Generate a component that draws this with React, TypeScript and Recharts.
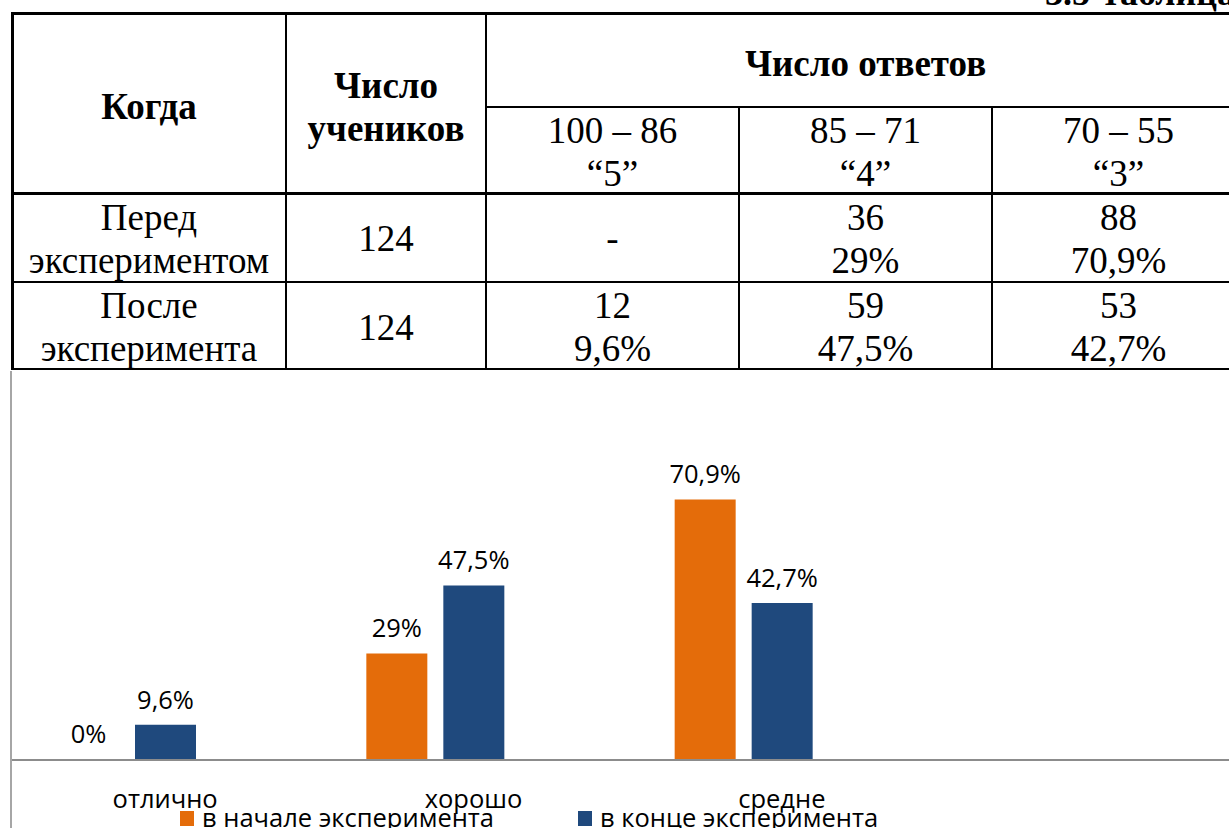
import React from 'react';
import { BarChart, Bar, XAxis, YAxis, LabelList, Legend } from 'recharts';

// ---- chart data ----
const categories = ['отлично', 'хорошо', 'средне'];
const beforeValues = [0, 29, 70.9];
const afterValues = [9.6, 47.5, 42.7];
const emptyValues: (number | null)[] = [null, null, null];
const seriesNames = ['в начале эксперимента', 'в конце эксперимента'];
const seriesColors = ['#E46C0A', '#1F497D'];

// ---- table data ----
const tableTitle = '3.5-таблица';
const headWhen = 'Когда';
const headCount = ['Число', 'учеников'];
const headAnswers = 'Число ответов';
const gradeRanges = ['100 – 86', '85 – 71', '70 – 55'];
const gradeMarks = ['“5”', '“4”', '“3”'];
const rowLabels = [
  ['Перед', 'экспериментом'],
  ['После', 'эксперимента'],
];
const studentCounts = [124, 124];
const beforeCounts: (number | null)[] = [null, 36, 88];
const afterCounts: (number | null)[] = [12, 59, 53];

const fmtPct = (v: any) => (v == null ? '' : `${String(v).replace('.', ',')}%`);

const data = categories.map((c, i) => ({
  name: c,
  before: beforeValues[i],
  after: afterValues[i],
  extra: emptyValues[i],
}));

const serif = '"Liberation Serif", "Times New Roman", serif';
const sans = '"Open Sans", "Noto Sans", sans-serif';
const chartFont = 25.5;

const hLines = [
  { y: 12, x1: 11, x2: 1245, t: 3 },
  { y: 106, x1: 486, x2: 1245, t: 2 },
  { y: 192, x1: 11, x2: 1245, t: 3 },
  { y: 281, x1: 11, x2: 1245, t: 2 },
  { y: 368, x1: 11, x2: 1245, t: 2 },
];
const vLines = [
  { x: 11, y1: 12, y2: 370, t: 3 },
  { x: 285, y1: 12, y2: 370, t: 2 },
  { x: 485, y1: 12, y2: 370, t: 2 },
  { x: 738, y1: 106, y2: 370, t: 2 },
  { x: 991, y1: 106, y2: 370, t: 2 },
];

const colX = [12, 286, 486, 739, 992, 1245];
const rowY = [193, 282, 370];

const Cell = ({ x, y, w, h, lines, bold }: any) => (
  <div
    style={{
      position: 'absolute',
      left: x,
      top: y,
      width: w,
      height: h,
      display: 'flex',
      flexDirection: 'column',
      alignItems: 'center',
      justifyContent: 'center',
      fontFamily: serif,
      fontSize: 37,
      lineHeight: '43px',
      fontWeight: bold ? 700 : 400,
      color: '#000',
      whiteSpace: 'nowrap',
    }}
  >
    {lines.map((l: string, i: number) => (
      <div key={i}>{l}</div>
    ))}
  </div>
);

const renderLegend = () => (
  <div
    style={{
      display: 'flex',
      alignItems: 'flex-start',
      height: 18,
      paddingLeft: 169,
      fontFamily: sans,
      fontSize: chartFont,
      lineHeight: '18px',
      whiteSpace: 'nowrap',
      color: '#000',
    }}
  >
    {seriesNames.map((n, i) => (
      <div key={n} style={{ display: 'flex', alignItems: 'flex-start', marginRight: 84 }}>
        <span
          style={{
            width: 14,
            height: 15,
            background: seriesColors[i],
            display: 'inline-block',
            marginRight: 8,
          }}
        />
        <span style={{ position: 'relative', top: -3 }}>{n}</span>
      </div>
    ))}
  </div>
);

const Tick = (props: any) => {
  const { x, y, payload } = props;
  return (
    <text x={x} y={y + 48} textAnchor="middle" fontFamily={sans} fontSize={chartFont} fill="#000">
      {payload.value}
    </text>
  );
};

export default function App() {
  const rows = [beforeCounts, afterCounts];
  const pcts = [beforeValues, afterValues];
  return (
    <div
      style={{
        position: 'absolute',
        left: 0,
        top: 0,
        width: 1229,
        height: 828,
        overflow: 'hidden',
        background: '#fff',
      }}
    >
      {/* title, cut at the top */}
      <div
        style={{
          position: 'absolute',
          left: 1045,
          top: -25,
          fontFamily: serif,
          fontWeight: 700,
          fontSize: 36,
          lineHeight: '36px',
          whiteSpace: 'nowrap',
        }}
      >
        {tableTitle}
      </div>

      {/* table grid */}
      {hLines.map((l, i) => (
        <div
          key={'h' + i}
          style={{ position: 'absolute', left: l.x1, top: l.y, width: l.x2 - l.x1, height: l.t, background: '#000' }}
        />
      ))}
      {vLines.map((l, i) => (
        <div
          key={'v' + i}
          style={{ position: 'absolute', left: l.x, top: l.y1, width: l.t, height: l.y2 - l.y1, background: '#000' }}
        />
      ))}

      {/* header */}
      <Cell x={colX[0]} y={17} w={colX[1] - colX[0]} h={179} lines={[headWhen]} bold />
      <Cell x={colX[1]} y={17} w={colX[2] - colX[1]} h={179} lines={headCount} bold />
      <Cell x={colX[2]} y={17} w={colX[5] - colX[2]} h={93} lines={[headAnswers]} bold />
      {gradeRanges.map((g, i) => (
        <Cell key={g} x={colX[2 + i]} y={109} w={colX[3 + i] - colX[2 + i]} h={86} lines={[g, gradeMarks[i]]} />
      ))}

      {/* body rows */}
      {rowLabels.map((lbl, r) => (
        <React.Fragment key={r}>
          <Cell x={colX[0]} y={rowY[r] + 1} w={colX[1] - colX[0]} h={rowY[r + 1] - rowY[r]} lines={lbl} />
          <Cell x={colX[1]} y={rowY[r] + 1} w={colX[2] - colX[1]} h={rowY[r + 1] - rowY[r]} lines={[String(studentCounts[r])]} />
          {rows[r].map((cnt, c) => (
            <Cell
              key={c}
              x={colX[2 + c]}
              y={rowY[r] + 1}
              w={colX[3 + c] - colX[2 + c]}
              h={rowY[r + 1] - rowY[r]}
              lines={cnt == null ? ['-'] : [String(cnt), fmtPct(pcts[r][c])]}
            />
          ))}
        </React.Fragment>
      ))}

      {/* chart */}
      <div
        style={{
          position: 'absolute',
          left: 10,
          top: 371,
          borderLeft: '2px solid #a6a6a6',
          height: 470,
        }}
      >
        <BarChart
          width={1232}
          height={458}
          data={data}
          margin={{ top: 95, right: 0, bottom: 0, left: -1 }}
          barSize={61}
          barGap={16}
        >
          <XAxis
            dataKey="name"
            height={51}
            tickLine={false}
            tickSize={0}
            tickMargin={0}
            axisLine={{ stroke: '#8c8c8c', strokeWidth: 2 }}
            padding={{ left: 0, right: 308 }}
            tick={<Tick />}
            interval={0}
          />
          <YAxis hide domain={[0, 80]} />
          <Legend verticalAlign="bottom" content={renderLegend} />
          <Bar
            dataKey="before"
            name={seriesNames[0]}
            fill={seriesColors[0]}
            minPointSize={1}
            isAnimationActive={false}
          >
            <LabelList
              dataKey="before"
              position="top"
              offset={16}
              formatter={fmtPct}
              fill="#000"
              fontSize={chartFont}
              fontFamily={sans}
            />
          </Bar>
          <Bar dataKey="after" name={seriesNames[1]} fill={seriesColors[1]} isAnimationActive={false}>
            <LabelList
              dataKey="after"
              position="top"
              offset={16}
              formatter={fmtPct}
              fill="#000"
              fontSize={chartFont}
              fontFamily={sans}
            />
          </Bar>
          <Bar dataKey="extra" fill="transparent" legendType="none" isAnimationActive={false} />
        </BarChart>
      </div>
    </div>
  );
}
